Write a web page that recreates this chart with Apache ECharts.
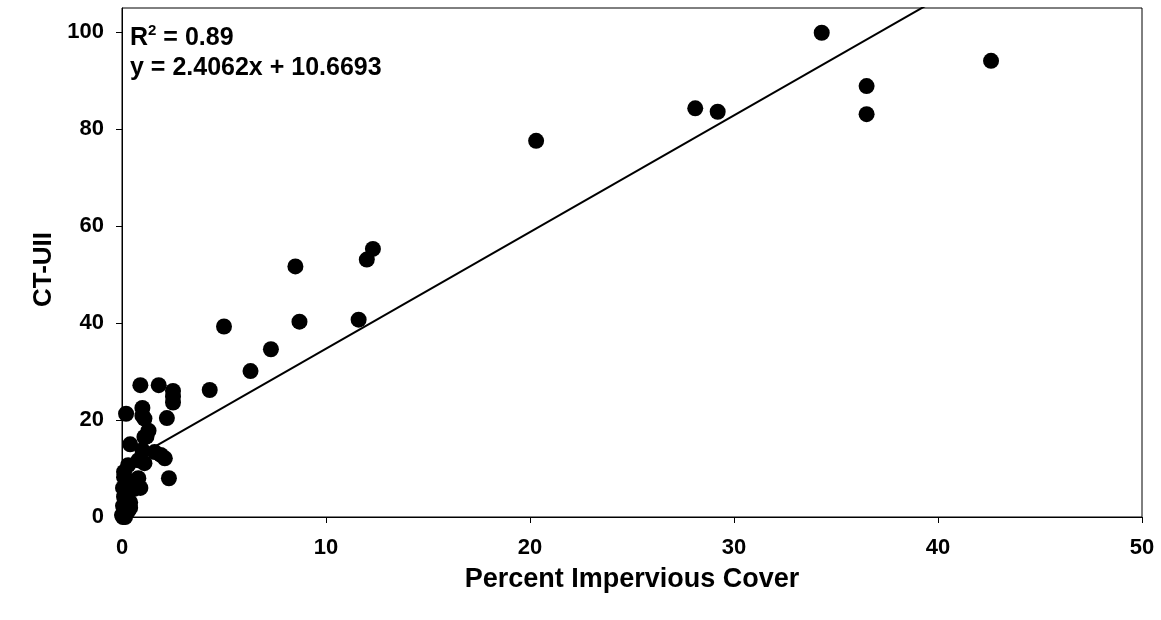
<!DOCTYPE html>
<html>
<head>
<meta charset="utf-8">
<script src="https://cdn.jsdelivr.net/npm/echarts@6/dist/echarts.min.js"></script>
<style>
  html, body { margin: 0; padding: 0; background: #fff; }
  #chart { width: 1161px; height: 620px; }
</style>
</head>
<body>
<div id="chart"></div>
<script>
// percent impervious cover vs CT-UII
const coverX = [
  42.6, 34.3, 36.5, 36.5, 28.1, 29.2, 20.3, 12.3, 12.0, 8.5,
  11.6, 8.7, 5.0, 7.3, 6.3, 4.3, 2.5, 2.5, 2.5, 1.8,
  0.9, 1.0, 1.0, 1.1, 2.2, 0.2, 1.3, 1.2, 0.4, 1.1,
  1.0, 1.6, 2.1, 0.3, 0.8, 1.1, 2.3, 0.1, 0.5, 0.8,
  0.9, 0.15, 0.4, 0.05, 0.1, 0.3, 0.05, 0.6, 0.1, 0.4,
  0.05, 0.3, 0.0, 0.15, 1.9
]
const ctuiiY = [
  94.1, 99.9, 88.9, 83.1, 84.3, 83.6, 77.6, 55.3, 53.1, 51.7,
  40.7, 40.3, 39.3, 34.6, 30.1, 26.2, 26.0, 24.8, 23.6, 27.2,
  27.2, 22.5, 20.9, 20.3, 20.4, 21.3, 17.8, 16.6, 15.0, 16.5,
  13.8, 13.4, 12.1, 10.7, 11.7, 11.1, 8.0, 9.3, 7.2, 8.0,
  6.0, 4.5, 1.9, 0.0, 8.2, 7.5, 6.0, 5.8, 4.2, 3.0,
  2.3, 1.2, 0.4, 0.0, 12.8
]
// fitted line endpoints (y = 2.4062x + 10.6693)
const trendX = [0, 42.6]
const trendY = [10.67, 113.17]

const xTicks = [0, 10, 20, 30, 40, 50]
const yTicks = [0, 20, 40, 60, 80, 100]

const points = coverX.map((x, i) => [x, ctuiiY[i]])
const trend = trendX.map((x, i) => [x, trendY[i]])

const font = 'Liberation Sans, Arial, sans-serif'

const option = {
  animation: false,
  backgroundColor: '#fff',
  grid: {
    left: 122,
    right: 19,
    top: 8,
    bottom: 103,
    show: true,
    borderColor: '#000',
    borderWidth: 1,
  },
  xAxis: {
    type: 'value',
    min: 0,
    max: 50,
    interval: 10,
    name: 'Percent Impervious Cover',
    nameLocation: 'middle',
    nameGap: 49,
    nameTextStyle: { fontFamily: font, fontWeight: 'bold', fontSize: 27, color: '#000' },
    splitLine: { show: false },
    axisLine: { onZero: false, lineStyle: { color: '#000', width: 1 } },
    axisTick: { show: true, length: 6, lineStyle: { color: '#000' }, customValues: xTicks },
    axisLabel: {
      margin: 20,
      fontFamily: font,
      fontWeight: 'bold',
      fontSize: 22,
      color: '#000',
      customValues: xTicks,
    },
  },
  yAxis: {
    type: 'value',
    min: 0,
    max: 105,
    interval: 20,
    name: 'CT-UII',
    nameLocation: 'middle',
    nameGap: 61,
    nameTextStyle: {
      fontFamily: font,
      fontWeight: 'bold',
      fontSize: 26,
      color: '#000',
      padding: [0, 14, 0, 0],
    },
    splitLine: { show: false },
    axisLine: { show: true, onZero: false, lineStyle: { color: '#000', width: 1 } },
    axisTick: { show: true, length: 6, lineStyle: { color: '#000' }, customValues: yTicks },
    axisLabel: {
      margin: 18,
      fontFamily: font,
      fontWeight: 'bold',
      fontSize: 22,
      color: '#000',
      customValues: yTicks,
    },
  },
  graphic: [
    {
      type: 'text',
      left: 130,
      top: 23,
      style: {
        text: '{b|R}{s|2}{b| = 0.89}',
        rich: {
          b: { fontFamily: font, fontWeight: 'bold', fontSize: 25, fill: '#000', lineHeight: 30 },
          s: { fontFamily: font, fontWeight: 'bold', fontSize: 15, fill: '#000', verticalAlign: 'top', lineHeight: 30 },
        },
      },
    },
    {
      type: 'text',
      left: 130,
      top: 56,
      style: {
        text: 'y = 2.4062x + 10.6693',
        fontFamily: font,
        fontWeight: 'bold',
        fontSize: 25,
        fill: '#000',
      },
    },
  ],
  series: [
    {
      type: 'line',
      data: trend,
      symbol: 'none',
      clip: true,
      lineStyle: { color: '#000', width: 2 },
      z: 2,
    },
    {
      type: 'scatter',
      data: points,
      symbol: 'circle',
      symbolSize: 16,
      itemStyle: { color: '#000', opacity: 1 },
      z: 3,
    },
  ],
}

const myechart = echarts.init(document.getElementById('chart'))
myechart.setOption(option)
</script>
</body>
</html>
